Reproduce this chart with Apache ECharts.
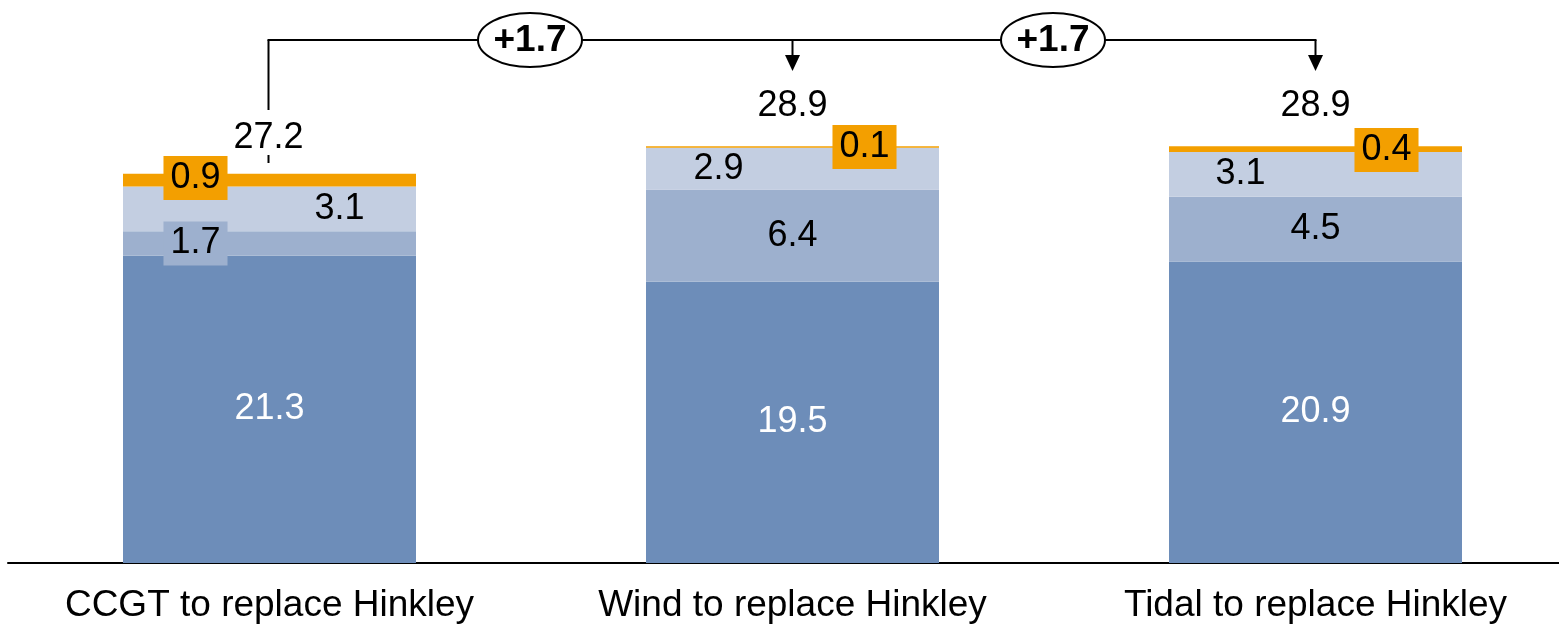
<!DOCTYPE html>
<html>
<head>
<meta charset="utf-8">
<script src="https://cdn.jsdelivr.net/npm/echarts@6/dist/echarts.min.js"></script>
<style>
  html, body { margin: 0; padding: 0; background: #fff; }
  #chart { width: 1559px; height: 629px; }
</style>
</head>
<body>
<div id="chart"></div>
<script>
// Cost build-up for each replacement option (stacked components)
const categories = ['CCGT to replace Hinkley', 'Wind to replace Hinkley', 'Tidal to replace Hinkley'];
const baseCost    = [21.3, 19.5, 20.9];
const secondCost  = [1.7, 6.4, 4.5];
const thirdCost   = [3.1, 2.9, 3.1];
const topCost     = [0.9, 0.1, 0.4];
const totals      = [27.2, 28.9, 28.9];
const deltaLabels = ['+1.7', '+1.7'];

const FONT = '"Liberation Sans", Arial, sans-serif';
const C_DARK = '#6d8db9';
const C_MID = '#9db0ce';
const C_LIGHT = '#c3cee1';
const C_ORANGE = '#f39f00';

// per-category label placement tweaks for the thin segments
const midOffsets    = [[-74, 0], [0, 0], [0, 0]];
const midBoxed      = [true, false, false];
const lightOffsets  = [[70, 0], [-74, 0], [-75, 0]];
const topOffsets    = [[-74, -2], [72, 0], [71, 1]];
const totalOffsets  = [[-1, -33], [0, -40], [0, -40]];

const baseLabel = {
  show: true,
  position: 'inside',
  fontFamily: FONT,
  fontSize: 36,
  lineHeight: 36,
  color: '#000',
  textBorderWidth: 0,
  formatter: p => p.value.toFixed(1)
};

function items(values, fn) {
  return values.map((v, i) => Object.assign({ value: v }, fn ? fn(i) : {}));
}

const chart = echarts.init(document.getElementById('chart'), null, { renderer: 'canvas' });

chart.setOption({
  animation: false,
  backgroundColor: '#fff',
  grid: { left: 8, width: 1569, top: 15, bottom: 66, containLabel: false, outerBoundsMode: 'none' },
  xAxis: {
    type: 'category',
    data: categories,
    axisLine: { show: true, lineStyle: { color: '#000', width: 2 } },
    axisTick: { show: false },
    axisLabel: { fontFamily: FONT, fontSize: 37, color: '#000', margin: 24, interval: 0 }
  },
  yAxis: { type: 'value', min: 0, max: 38, show: false, splitLine: { show: false } },
  series: [
    {
      type: 'bar', stack: 'cost', barWidth: 293,
      itemStyle: { color: C_DARK },
      label: Object.assign({}, baseLabel, { color: '#fff' }),
      data: items(baseCost)
    },
    {
      type: 'bar', stack: 'cost',
      itemStyle: { color: C_MID },
      label: baseLabel,
      data: items(secondCost, i => ({
        label: midBoxed[i]
          ? { offset: midOffsets[i], backgroundColor: C_MID, padding: [4, 7] }
          : { offset: midOffsets[i] }
      }))
    },
    {
      type: 'bar', stack: 'cost',
      itemStyle: { color: C_LIGHT },
      label: baseLabel,
      data: items(thirdCost, i => ({ label: { offset: lightOffsets[i] } }))
    },
    {
      type: 'bar', stack: 'cost',
      itemStyle: { color: C_ORANGE },
      label: Object.assign({}, baseLabel, { backgroundColor: C_ORANGE, padding: [4, 7] }),
      data: items(topCost, i => ({ label: { offset: topOffsets[i] } }))
    },
    {
      type: 'scatter',
      symbolSize: 1,
      itemStyle: { color: 'rgba(0,0,0,0)', opacity: 1 },
      label: Object.assign({}, baseLabel, { position: 'inside' }),
      data: items(totals, i => ({ label: { offset: totalOffsets[i] } })),
      z: 5
    }
  ]
});

// Bracket connectors between totals, with the increase shown in ovals
function drawConnectors() {
  const xs = categories.map(c => chart.convertToPixel({ xAxisIndex: 0 }, c));
  const yLine = 40;
  const stroke = { stroke: '#000', lineWidth: 2 };
  const els = [];
  // vertical rise from the first total
  els.push({ type: 'line', shape: { x1: xs[0] - 1, y1: yLine, x2: xs[0] - 1, y2: 110 }, style: stroke });
  els.push({ type: 'line', shape: { x1: xs[0] - 1, y1: 155, x2: xs[0] - 1, y2: 163 }, style: stroke });
  // horizontal run
  els.push({ type: 'line', shape: { x1: xs[0] - 2, y1: yLine, x2: xs[2] + 1, y2: yLine }, style: stroke });
  // down arrows
  [xs[1], xs[2]].forEach(x => {
    els.push({ type: 'line', shape: { x1: x, y1: yLine, x2: x, y2: 58 }, style: stroke });
    els.push({ type: 'polygon', shape: { points: [[x - 7.5, 55], [x + 7.5, 55], [x, 71]] }, style: { fill: '#000' } });
  });
  // ovals
  deltaLabels.forEach((t, i) => {
    const cx = (xs[i] + xs[i + 1]) / 2 - 1;
    els.push({
      type: 'ellipse',
      shape: { cx: cx, cy: yLine, rx: 52, ry: 27 },
      style: { fill: '#fff', stroke: '#000', lineWidth: 2 },
      z: 10
    });
    els.push({
      type: 'text',
      x: cx, y: yLine + 1,
      style: { text: t, fontFamily: FONT, fontSize: 37, fontWeight: 'bold', fill: '#000', align: 'center', verticalAlign: 'middle' },
      z: 11
    });
  });
  chart.setOption({ graphic: { elements: els } });
}
drawConnectors();
</script>
</body>
</html>
